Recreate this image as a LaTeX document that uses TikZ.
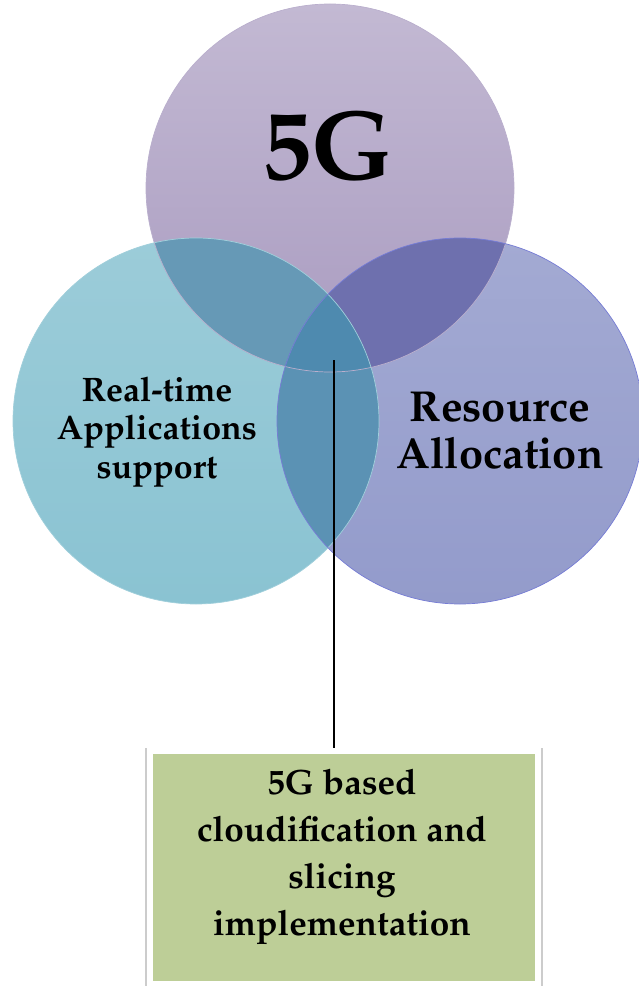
\documentclass[tikz,border=0pt]{standalone}
\usepackage[T1]{fontenc}
\usepackage{mathpazo}
\usetikzlibrary{shadows}

\definecolor{topC}{HTML}{A99BC0}
\definecolor{leftC}{HTML}{8AC3D2}
\definecolor{rightC}{HTML}{939BCB}
\definecolor{topleftC}{HTML}{6699B6}
\definecolor{toprightC}{HTML}{6E70AE}
\definecolor{leftrightC}{HTML}{5B92B4}
\definecolor{coreC}{HTML}{4E8AAF}
\definecolor{boxC}{HTML}{BDCE97}

\begin{document}
\begin{tikzpicture}[x=0.03cm,y=-0.03cm,
  biglabel/.style={font=\bfseries\fontsize{84}{90}\selectfont, inner sep=0pt},
  midlabel/.style={font=\bfseries\fontsize{37}{40}\selectfont, align=center, inner sep=0pt},
  smalllabel/.style={font=\bfseries\fontsize{29}{32.5}\selectfont, align=center, inner sep=0pt},
  implbox/.style={fill=boxC, draw=white, line width=0.18cm, minimum width=11.64cm,
    minimum height=6.99cm, inner sep=0pt,
    drop shadow={opacity=0.4, shadow xshift=0cm, shadow yshift=0cm, shadow scale=1.025}},
  impltext/.style={font=\bfseries\fontsize{30}{40}\selectfont, align=center, inner sep=0pt}]
  \useasboundingbox (0,0) rectangle (638,987);

  \coordinate (top) at (330,188);
  \coordinate (left) at (196,421);
  \coordinate (right) at (460,421);

  % Base circles
  \shade[top color=topC!70!white, middle color=topC, bottom color=topC] (top) circle (184);
  \shade[top color=leftC!85!white, middle color=leftC, bottom color=leftC] (left) circle (183);
  \shade[top color=rightC!85!white, middle color=rightC, bottom color=rightC] (right) circle (183);

  % Pairwise overlaps
  \begin{scope}
    \clip (top) circle (184);
    \fill[topleftC] (left) circle (183);
    \fill[toprightC] (right) circle (183);
  \end{scope}
  \begin{scope}
    \clip (left) circle (183);
    \fill[leftrightC] (right) circle (183);
  \end{scope}

  % Shade intersection of all three
  \begin{scope}
    \clip (top) circle (184);
    \clip (left) circle (183);
    \fill[coreC] (right) circle (183);
  \end{scope}

  % Circle outlines
  \draw[topC!80!white, line width=0.6pt] (top) circle (184);
  \draw[leftC!80!white, line width=0.6pt] (left) circle (183);
  \draw[rightC!80!blue, line width=0.6pt] (right) circle (183);

  % Labels
  \node[biglabel] (fiveg) at (328,146) {5G};
  \node[smalllabel] (rta) at (157,432) {Real-time\\Applications\\support};
  \node[midlabel] (ra) at (500,431) {Resource\\Allocation};

  % Box and connector
  \node[implbox] (impl) at (344,867) {};
  \node[impltext] (impltxt) at (342,857) {5G based\\cloudification and\\slicing\\implementation};
  \coordinate (core) at (334,360);
  \draw[line width=2pt] (core) -- (core |- impl.north);
\end{tikzpicture}
\end{document}
